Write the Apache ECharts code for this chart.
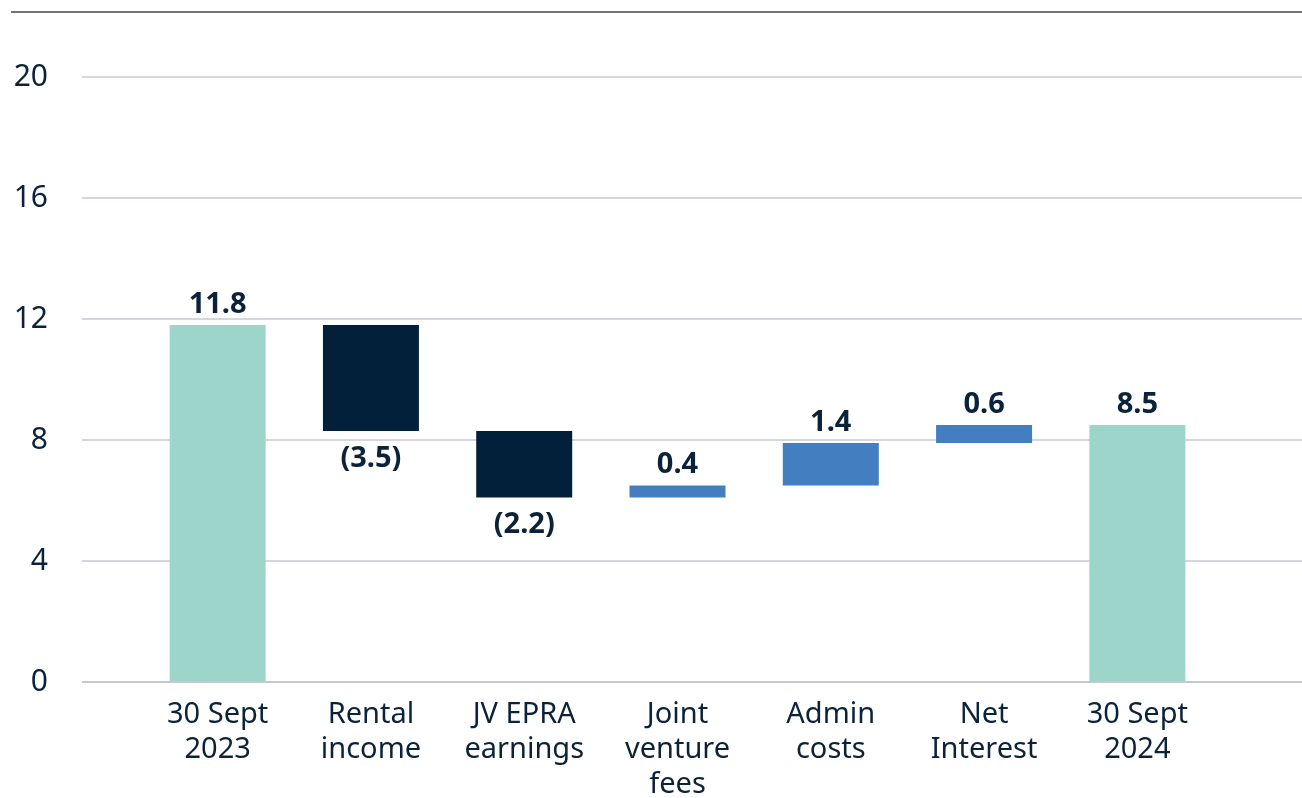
<!DOCTYPE html>
<html><head><meta charset="utf-8">
<script src="https://cdn.jsdelivr.net/npm/echarts@6/dist/echarts.min.js"></script>
<style>html,body{margin:0;padding:0;background:#fff}#c{width:1302px;height:798px}</style>
</head><body><div id="c"></div>
<script>
const categories = ['30 Sept\n2023', 'Rental\nincome', 'JV EPRA\nearnings', 'Joint\nventure\nfees', 'Admin\ncosts', 'Net\nInterest', '30 Sept\n2024'];
const changes = [11.8, -3.5, -2.2, 0.4, 1.4, 0.6, 8.5];
const kinds = ['total', 'neg', 'neg', 'pos', 'pos', 'pos', 'total'];
const yTicks = [0, 4, 8, 12, 16, 20];

const colors = { total: '#9dd5cb', neg: '#022039', pos: '#437ec0' };
const txt = '#0b2239';
const font = '"Noto Sans", sans-serif';

const base = [], height = [];
let run = 0;
changes.forEach((v, i) => {
  if (kinds[i] === 'total') { base.push(0); height.push(v); run = v; }
  else {
    const next = run + v;
    base.push(Math.min(run, next)); height.push(Math.abs(v)); run = next;
  }
});
const fmt = v => v < 0 ? '(' + Math.abs(v).toFixed(1) + ')' : v.toFixed(1);

const chart = echarts.init(document.getElementById('c'));
chart.setOption({
  animation: false,
  grid: [
    { left: 82, right: 0, top: 77, bottom: 116, outerBoundsMode: 'none', containLabel: false },
    { left: 141, right: 88, top: 77, bottom: 116, outerBoundsMode: 'none', containLabel: false }
  ],
  xAxis: [
    { gridIndex: 0, type: 'value', min: 0, max: 1, show: false },
    { gridIndex: 1, type: 'category', data: categories,
      axisLine: { show: false }, axisTick: { show: false },
      axisLabel: { color: txt, fontSize: 29, fontFamily: font, lineHeight: 35, margin: 15, interval: 0 } }
  ],
  yAxis: [
    { gridIndex: 0, type: 'value', min: yTicks[0], max: yTicks[yTicks.length - 1], interval: 4,
      axisLine: { show: false }, axisTick: { show: false },
      axisLabel: { color: txt, fontSize: 30, fontFamily: font, margin: 34 },
      splitLine: { lineStyle: { color: '#c9c9d6', width: 1.5 } } },
    { gridIndex: 1, type: 'value', min: 0, max: 20, interval: 4, show: false, splitLine: { show: false } }
  ],
  series: [
    { type: 'bar', xAxisIndex: 1, yAxisIndex: 1, stack: 'w', data: base, barWidth: 96,
      itemStyle: { color: 'transparent' }, silent: true },
    { type: 'bar', xAxisIndex: 1, yAxisIndex: 1, stack: 'w', barWidth: 96,
      data: height.map((h, i) => ({
        value: h,
        itemStyle: { color: colors[kinds[i]] },
        label: {
          show: true,
          position: changes[i] < 0 ? 'bottom' : 'top',
          distance: changes[i] < 0 ? 13 : 6,
          formatter: () => fmt(changes[i]),
          color: txt, fontSize: 29, fontWeight: 'bold', fontFamily: font
        }
      })) },
    { type: 'line', xAxisIndex: 0, yAxisIndex: 0, data: [], markLine: { silent: true, symbol: 'none', label: { show: false },
      lineStyle: { color: '#c4c7cf', width: 2, type: 'solid' }, data: [{ yAxis: 0 }] } }
  ],
  graphic: [
    { type: 'line', shape: { x1: 11, y1: 12, x2: 1302, y2: 12 }, style: { stroke: '#6b7587', lineWidth: 2 } }
  ]
});
</script></body></html>
